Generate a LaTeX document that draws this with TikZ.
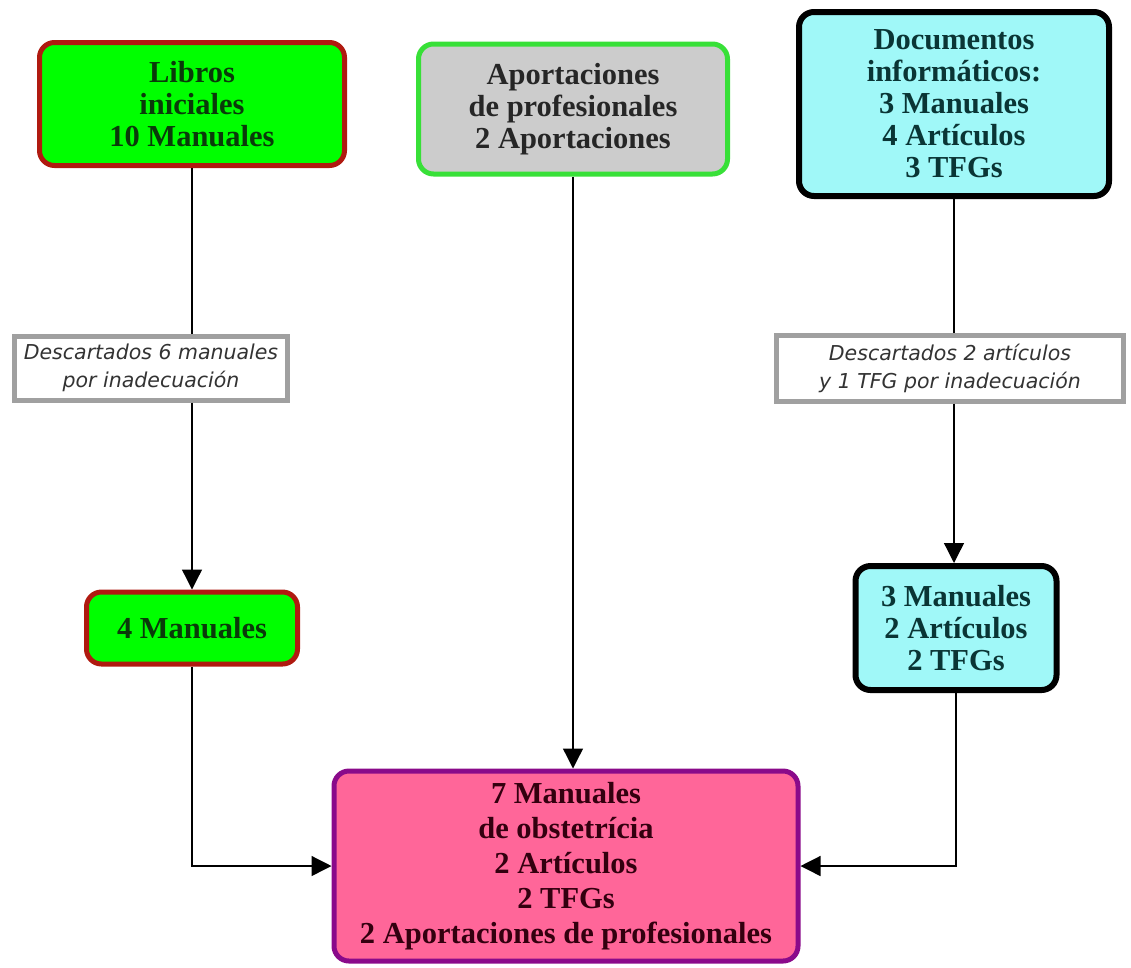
\documentclass[tikz,border=0pt]{standalone}
\usepackage{fontspec}
\setmainfont{Liberation Serif}
\newfontfamily\labfont{DejaVu Sans}
\usetikzlibrary{arrows.meta}
\definecolor{boxgreen}{HTML}{00FF00}
\definecolor{darkred}{HTML}{B01A10}
\definecolor{txtgreen}{HTML}{0A3A0A}
\definecolor{boxgray}{HTML}{CCCCCC}
\definecolor{brgreen}{HTML}{38E038}
\definecolor{boxcyan}{HTML}{A0F8F8}
\definecolor{txtteal}{HTML}{0A3535}
\definecolor{boxpink}{HTML}{FF6699}
\definecolor{purp}{HTML}{8A0A8A}
\definecolor{txtmaroon}{HTML}{33000F}
\definecolor{labgray}{HTML}{A0A0A0}
\tikzset{
  mainbox/.style={rectangle, rounded corners=15pt, line width=5pt, inner sep=0pt,
    align=center, font=\fontsize{30.5}{32}\selectfont\bfseries},
  greenbox/.style={mainbox, fill=boxgreen, draw=darkred, text=txtgreen},
  graybox/.style={mainbox, fill=boxgray, draw=brgreen, text=black!85},
  cyanbox/.style={mainbox, fill=boxcyan, draw=black, text=txtteal, line width=6pt},
  pinkbox/.style={mainbox, fill=boxpink, draw=purp, text=txtmaroon, font=\fontsize{30.5}{35}\selectfont\bfseries},
  labbox/.style={rectangle, draw=labgray, line width=5pt, fill=white, inner sep=0pt,
    align=center, text=black!80, font=\labfont\itshape\fontsize{20.5}{28}\selectfont},
  conn/.style={line width=1.3pt, draw=black},
  arr/.style={conn, -{Triangle[width=20pt,length=20pt]}}
}
\begin{document}
\begin{tikzpicture}[x=1pt,y=-1pt]
\useasboundingbox (0,0) rectangle (1131,967);
\node[greenbox, minimum width=305pt, minimum height=123pt] (libros) at (192,104) {Libros\\iniciales\\10 Manuales};
\node[graybox, minimum width=309pt, minimum height=130pt] (aport) at (573,109) {Aportaciones\\de profesionales\\2 Aportaciones};
\node[cyanbox, minimum width=310pt, minimum height=184pt] (docs) at (954,104) {Documentos\\informáticos:\\3 Manuales\\4 Artículos\\3 TFGs};
\node[labbox, minimum width=273pt, minimum height=64pt] (lab1) at (151,368) {Descartados 6 manuales\\por inadecuación};
\node[labbox, minimum width=347pt, minimum height=66pt] (lab2) at (950,368) {Descartados 2 artículos\\y 1 TFG por inadecuación};
\node[greenbox, minimum width=211pt, minimum height=72pt] (cuatro) at (192,628) {4 Manuales};
\node[cyanbox, minimum width=201pt, minimum height=124pt] (tres) at (956,628) {3 Manuales\\2 Artículos\\2 TFGs};
\node[pinkbox, minimum width=464pt, minimum height=190pt] (final) at (566,866) {7 Manuales\\de obstetrícia\\2 Artículos\\2 TFGs\\2 Aportaciones de profesionales};
\draw[conn] (libros.south) -- (libros.south |- lab1.north);
\draw[arr] (libros.south |- lab1.south) -- (cuatro.north);
\draw[arr] (aport.south) -- (final.north -| aport.south);
\draw[conn] (docs.south) -- (docs.south |- lab2.north);
\draw[arr] (docs.south |- lab2.south) -- (docs.south |- tres.north);
\draw[arr] (cuatro.south) |- (final.west);
\draw[arr] (tres.south) |- (final.east);
\end{tikzpicture}
\end{document}
